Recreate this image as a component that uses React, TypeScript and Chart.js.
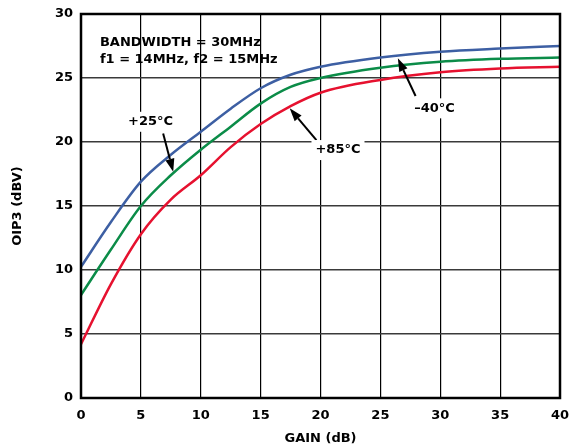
import { useEffect, useRef } from "react";
import { Chart, registerables } from "chart.js";

Chart.register(...registerables);

// Gain (dB) sample points shared by all curves
const gain = [0, 2.5, 5, 7.5, 10, 12.5, 15, 17.5, 20, 25, 30, 35, 40];
// OIP3 (dBV) per temperature
const oip3Minus40 = [10.25, 13.75, 16.9, 19.0, 20.8, 22.6, 24.2, 25.25, 25.88, 26.6, 27.05, 27.3, 27.5];
const oip3Plus25 = [8.05, 11.6, 15.0, 17.4, 19.4, 21.2, 23.0, 24.3, 25.0, 25.8, 26.27, 26.5, 26.6];
const oip3Plus85 = [4.2, 8.9, 12.8, 15.5, 17.4, 19.6, 21.4, 22.8, 23.85, 24.85, 25.45, 25.75, 25.88];

const xTicks = [0, 5, 10, 15, 20, 25, 30, 35, 40];
const yTicks = [0, 5, 10, 15, 20, 25, 30];

// Annotation labels (data units)
const labelTexts = ["+25°C", "–40°C", "+85°C"];
const labelX = [5.81, 29.52, 21.46];
const labelY = [21.58, 22.63, 19.37];
const arrowFromX = [6.86, 27.94, 19.66];
const arrowFromY = [20.67, 23.59, 20.15];
const arrowToX = [7.7, 26.46, 17.43];
const arrowToY = [17.67, 26.54, 22.63];

const noteLines = ["BANDWIDTH = 30MHz", "f1 = 14MHz, f2 = 15MHz"];
const noteX = 1.58;
const noteY = [27.73, 26.4];

const FONT = '"DejaVu Sans", "Liberation Sans", Arial, sans-serif';

const toPoints = (ys: number[]) => gain.map((g, i) => ({ x: g, y: ys[i] }));

const annotationPlugin = {
  id: "annotations",
  afterDatasetsDraw(chart: any) {
    const { ctx, chartArea, scales } = chart;
    const xs = scales.x;
    const ys = scales.y;
    ctx.save();
    // frame
    ctx.strokeStyle = "#000";
    ctx.lineWidth = 2.5;
    ctx.strokeRect(
      chartArea.left,
      chartArea.top,
      chartArea.right - chartArea.left,
      chartArea.bottom - chartArea.top
    );

    ctx.font = `bold 13px ${FONT}`;
    ctx.fillStyle = "#000";
    ctx.textBaseline = "middle";

    // note text
    ctx.textAlign = "left";
    noteLines.forEach((t, i) => {
      ctx.fillText(t, xs.getPixelForValue(noteX), ys.getPixelForValue(noteY[i]));
    });

    // arrows
    for (let i = 0; i < labelTexts.length; i++) {
      const x0 = xs.getPixelForValue(arrowFromX[i]);
      const y0 = ys.getPixelForValue(arrowFromY[i]);
      const x1 = xs.getPixelForValue(arrowToX[i]);
      const y1 = ys.getPixelForValue(arrowToY[i]);
      const ang = Math.atan2(y1 - y0, x1 - x0);
      const headLen = 13;
      const headW = 4.5;
      const bx = x1 - headLen * Math.cos(ang);
      const by = y1 - headLen * Math.sin(ang);
      ctx.strokeStyle = "#000";
      ctx.lineWidth = 2;
      ctx.beginPath();
      ctx.moveTo(x0, y0);
      ctx.lineTo(bx, by);
      ctx.stroke();
      ctx.beginPath();
      ctx.moveTo(x1, y1);
      ctx.lineTo(bx + headW * Math.sin(ang), by - headW * Math.cos(ang));
      ctx.lineTo(bx - headW * Math.sin(ang), by + headW * Math.cos(ang));
      ctx.closePath();
      ctx.fillStyle = "#000";
      ctx.fill();
    }

    // labels with white background
    ctx.textAlign = "center";
    for (let i = 0; i < labelTexts.length; i++) {
      const px = xs.getPixelForValue(labelX[i]);
      const py = ys.getPixelForValue(labelY[i]);
      const w = ctx.measureText(labelTexts[i]).width;
      ctx.fillStyle = "#fff";
      ctx.fillRect(px - w / 2 - 4, py - 10, w + 8, 20);
      ctx.fillStyle = "#000";
      ctx.fillText(labelTexts[i], px, py);
    }
    ctx.restore();
  },
};

export default function App() {
  const canvasRef = useRef<HTMLCanvasElement | null>(null);

  useEffect(() => {
    document.body.style.margin = "0";
    const canvas = canvasRef.current;
    if (!canvas) return;
    const chart = new Chart(canvas, {
      type: "line",
      data: {
        datasets: [
          {
            label: "-40°C",
            data: toPoints(oip3Minus40),
            borderColor: "#3d5fa3",
            borderWidth: 2.5,
            pointRadius: 0,
            cubicInterpolationMode: "monotone",
            fill: false,
          },
          {
            label: "+25°C",
            data: toPoints(oip3Plus25),
            borderColor: "#0b8c48",
            borderWidth: 2.5,
            pointRadius: 0,
            cubicInterpolationMode: "monotone",
            fill: false,
          },
          {
            label: "+85°C",
            data: toPoints(oip3Plus85),
            borderColor: "#e6112f",
            borderWidth: 2.5,
            pointRadius: 0,
            cubicInterpolationMode: "monotone",
            fill: false,
          },
        ],
      },
      options: {
        responsive: false,
        animation: false,
        devicePixelRatio: 1,
        layout: { padding: { top: 14, right: 10, left: 0, bottom: 0 } },
        plugins: {
          legend: { display: false },
          tooltip: { enabled: false },
        },
        scales: {
          x: {
            type: "linear",
            min: 0,
            max: 40,
            afterBuildTicks: (s: any) => {
              s.ticks = xTicks.map((v) => ({ value: v }));
            },
            afterFit: (s: any) => {
              s.height = 50;
              s.paddingLeft = 0;
              s.paddingRight = 0;
            },
            ticks: {
              color: "#000",
              font: { family: FONT, size: 13, weight: "bold" },
              padding: 10,
              maxRotation: 0,
            },
            grid: { color: "#000", lineWidth: 1.2, drawTicks: false },
            border: { display: false },
            title: {
              display: true,
              text: "GAIN (dB)",
              color: "#000",
              font: { family: FONT, size: 13, weight: "bold" },
              padding: { top: 0, bottom: 2 },
            },
          },
          y: {
            type: "linear",
            min: 0,
            max: 30,
            afterBuildTicks: (s: any) => {
              s.ticks = yTicks.map((v) => ({ value: v }));
            },
            afterFit: (s: any) => {
              s.width = 81;
              s.paddingTop = 0;
              s.paddingBottom = 0;
            },
            ticks: {
              color: "#000",
              font: { family: FONT, size: 13, weight: "bold" },
              padding: 8,
            },
            grid: { color: "#3a3a3a", lineWidth: 1.4, drawTicks: false },
            border: { display: false },
            title: {
              display: true,
              text: "OIP3 (dBV)",
              color: "#000",
              font: { family: FONT, size: 13, weight: "bold" },
              padding: { top: 10, bottom: 0 },
            },
          },
        },
      },
      plugins: [annotationPlugin],
    });
    return () => chart.destroy();
  }, []);

  return <canvas ref={canvasRef} width={570} height={448} style={{ display: "block" }} />;
}
